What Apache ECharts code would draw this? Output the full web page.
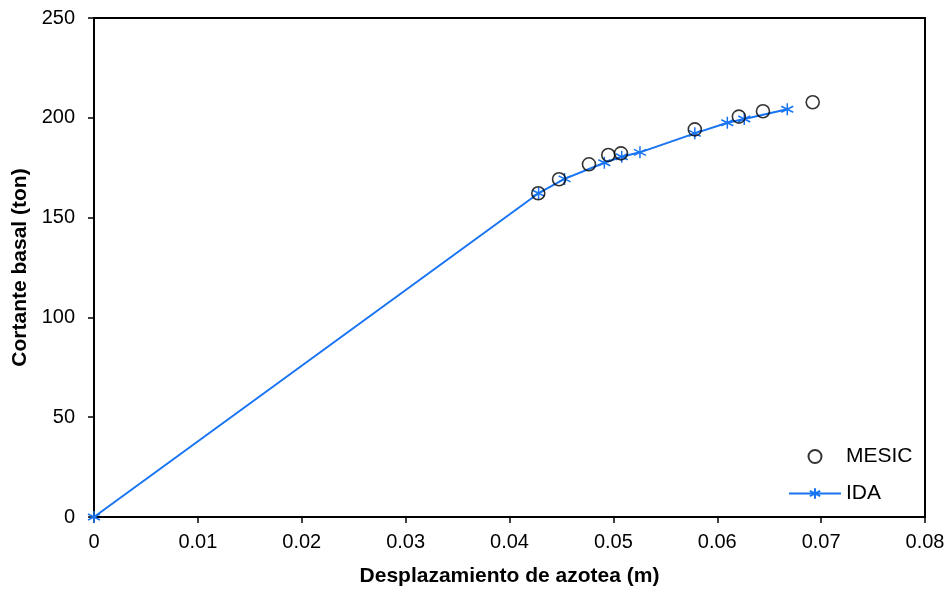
<!DOCTYPE html>
<html>
<head>
<meta charset="utf-8">
<script src="https://cdn.jsdelivr.net/npm/echarts@6/dist/echarts.min.js"></script>
<style>
  html, body { margin: 0; padding: 0; background: #fff; }
  #chart { width: 951px; height: 592px; }
</style>
</head>
<body>
<div id="chart"></div>
<script>
// datos
const mesicX = [0.04277, 0.04477, 0.04765, 0.04951, 0.05073, 0.05784, 0.06208, 0.06440, 0.06919];
const mesicY = [162.2, 169.2, 176.7, 181.4, 182.2, 194.2, 200.6, 203.3, 207.8];

const idaX = [0, 0.0428, 0.0453, 0.04913, 0.0508, 0.05256, 0.05784, 0.06097, 0.0626, 0.06674];
const idaY = [0, 162.2, 169.4, 177.5, 180.5, 182.7, 192.2, 197.5, 199.4, 204.3];

const xTicks = [0, 0.01, 0.02, 0.03, 0.04, 0.05, 0.06, 0.07, 0.08];
const yTicks = [0, 50, 100, 150, 200, 250];

const font = 'Liberation Sans, Arial, sans-serif';
const azul = '#1874f2';

// asterisco tipo excel
const star = 'path://M0,-5L0,5M-4.33,-2.5L4.33,2.5M-4.33,2.5L4.33,-2.5';

let chart = echarts.init(document.getElementById('chart'));
let option = {
    animation: false,
    grid: {
        left: 94, right: 26, top: 18, bottom: 75,
        show: true, borderColor: '#000', borderWidth: 2
    },
    legend: {
        orient: 'vertical',
        left: 783, top: 441,
        itemWidth: 52, itemHeight: 13, itemGap: 16,
        textStyle: { fontFamily: font, fontSize: 21, color: '#000' },
        data: ['MESIC', 'IDA']
    },
    xAxis: {
        type: 'value',
        min: xTicks[0], max: xTicks[xTicks.length - 1], interval: 0.01,
        name: 'Desplazamiento de azotea (m)',
        nameLocation: 'middle', nameGap: 49,
        nameTextStyle: { fontFamily: font, fontSize: 21, fontWeight: 'bold', color: '#000' },
        axisLine: { show: true, onZero: false, lineStyle: { color: '#000', width: 2 } },
        axisTick: { show: true, length: 6, lineStyle: { color: '#000', width: 1.5 } },
        axisLabel: { fontFamily: font, fontSize: 20, color: '#000', margin: 15 },
        splitLine: { show: false }
    },
    yAxis: {
        type: 'value',
        min: yTicks[0], max: yTicks[yTicks.length - 1], interval: 50,
        name: 'Cortante basal (ton)',
        nameLocation: 'middle', nameGap: 63,
        nameTextStyle: { fontFamily: font, fontSize: 21, fontWeight: 'bold', color: '#000' },
        axisLine: { show: true, onZero: false, lineStyle: { color: '#000', width: 2 } },
        axisTick: { show: true, length: 6, lineStyle: { color: '#000', width: 1.5 } },
        axisLabel: { fontFamily: font, fontSize: 20, color: '#000', margin: 19 },
        splitLine: { show: false }
    },
    series: [
        {
            name: 'MESIC',
            type: 'scatter',
            symbol: 'circle',
            symbolSize: 13,
            itemStyle: { color: 'rgba(255,255,255,0)', borderColor: '#000', borderWidth: 1.6 },
            data: mesicX.map((x, i) => [x, mesicY[i]]),
            z: 3
        },
        {
            name: 'IDA',
            type: 'line',
            symbol: star,
            symbolSize: 12,
            showSymbol: true,
            itemStyle: { color: azul, borderColor: azul, borderWidth: 1.5 },
            lineStyle: { color: azul, width: 2 },
            data: idaX.map((x, i) => [x, idaY[i]]),
            z: 2
        }
    ]
};
chart.setOption(option);
window.addEventListener('resize', function () { chart.resize() });
</script>
</body>
</html>
